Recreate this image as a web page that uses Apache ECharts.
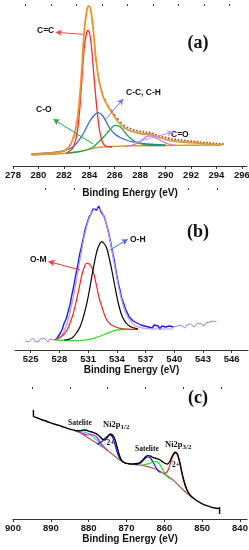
<!DOCTYPE html>
<html><head><meta charset="utf-8">
<script src="https://cdn.jsdelivr.net/npm/echarts@6.0.0/dist/echarts.min.js"></script>
<style>html,body{margin:0;padding:0;background:#fff}#c{width:249px;height:550px}</style>
</head><body><div id="c"></div>
<script>
// ---------- Panel (a): C1s ----------
const aTicks = [278,280,282,284,286,288,290,292,294,296];
const aMinor = [279,281,283,285,287,289,291,293,295];
const aMeas = [[279.5,11.8],[279.75,12.0],[280,12.3],[280.25,12.1],[280.5,12.6],[280.75,12.8],[281,13.1],[281.25,13.0],[281.5,13.7],[281.75,14.2],[282,15.3],[282.25,17.0],[282.5,21],[282.75,28.5],[283,43],[283.25,70],[283.5,112],[283.75,150],[284,160.5],[284.25,144],[284.5,106],[284.75,86],[285,74],[285.25,66],[285.5,60],[285.75,55.5],[286,51],[286.25,47],[286.5,43.5],[286.75,40.5],[287,38.5],[287.25,37.2],[287.5,36],[287.75,35.2],[288,34.5],[288.25,34.2],[288.5,33.6],[288.75,33.5],[289,32.6],[289.25,31.2],[289.5,30],[289.75,29.2],[290,28.4],[290.25,27.8],[290.5,27.1],[290.75,26.8],[291,26.2],[291.25,25.9],[291.5,25.5],[291.75,25.1],[292,24.8],[292.25,24.4],[292.5,24.3],[292.75,23.8],[293,23.6],[293.25,23.2],[293.5,23],[293.75,22.8],[294,22.5],[294.25,22.3],[294.5,22]];
const aTotal = [[279.5,11.5],[280.5,12.3],[281.5,13.5],[282.0,15],[282.4,19],[282.75,28],[283.0,42],[283.2,62],[283.4,95],[283.6,135],[283.8,155],[283.95,160],[284.1,157],[284.3,138],[284.5,110],[284.7,90],[284.9,78],[285.1,69],[285.4,61],[285.7,55],[286.0,49],[286.4,42],[286.9,37],[287.5,34],[288.0,32.5],[288.5,32],[288.8,32],[289.1,30.5],[289.5,28.5],[290.2,26],[291,24.5],[292,23.3],[293,22.3],[294.4,21]];
const aCC = [[282.2,13],[282.7,18],[283.0,30],[283.2,50],[283.4,83],[283.6,118],[283.8,134],[283.9,135.5],[284.05,131],[284.2,115],[284.4,85],[284.6,57],[284.8,36],[285.0,25],[285.2,20.5],[285.5,19.3],[285.8,19]];
const aCCH = [[279.6,12],[280.5,12.8],[281.5,14],[282.2,16],[282.7,19],[283.2,26],[283.6,34],[284.0,44],[284.4,51],[284.7,53.3],[285.0,51],[285.3,45],[285.6,38],[286.0,32],[286.5,28],[287.0,25.5],[287.5,24],[288.5,22],[290,21]];
const aCO = [[282.2,12.7],[283.0,14],[283.8,16],[284.3,19],[284.8,25],[285.2,30],[285.6,36],[286.0,40.7],[286.3,40],[286.6,37],[287.0,30.5],[287.4,26],[287.8,23],[288.3,21.5],[289,20.5],[290,20.3]];
const aCdO = [[286.9,19.3],[287.4,21],[287.8,23],[288.2,26.5],[288.6,30],[288.9,30],[289.3,27.7],[289.7,25],[290.1,22.5],[290.8,20.5]];
const aBase = [[279.5,11],[281,11.8],[282.2,12.7],[283,13.8],[283.6,15.5],[284.2,17.5],[284.8,18.7],[285.6,19.3],[287.5,20.2],[290,20.6],[294.4,21]];

// ---------- Panel (b): O1s ----------
const bTicks = [525,528,531,534,537,540,543,546];
const bMinor = [526.5,529.5,532.5,535.5,538.5,541.5,544.5];
const bMeas = [[527.7,11],[527.9,14],[528.1,17],[528.3,21],[528.5,27],[528.7,31],[528.9,38],[529.1,45],[529.3,55],[529.5,64],[529.7,75],[529.9,84],[530.1,95],[530.3,103],[530.5,112],[530.7,121],[530.9,127],[531.1,133],[531.3,136],[531.5,141],[531.7,143],[531.9,140],[532.1,144],[532.3,139],[532.5,138],[532.7,133],[532.9,126],[533.1,119],[533.3,110],[533.5,100],[533.7,91],[533.9,80],[534.1,69],[534.3,61],[534.5,52],[534.7,47],[534.9,41],[535.1,37],[535.3,33],[535.5,32],[535.7,29],[535.9,31],[536.1,27],[536.3,28],[536.5,25],[536.7,27],[536.9,24],[537.1,26],[537.3,23],[537.5,25],[537.7,22],[537.9,25],[538.1,23],[538.3,24],[538.5,21],[538.7,24],[538.9,22],[539.1,23],[539.3,21],[539.5,24],[539.7,22],[539.9,23]];
const bNoiseL = [[524.4,9],[524.6,11],[524.8,8],[525.0,10],[525.2,12],[525.4,9],[525.6,10],[525.8,8],[526.0,11],[526.2,9],[526.4,12],[526.6,10],[526.8,8],[527.0,11],[527.2,9],[527.4,10],[527.6,12],[527.8,11]];
const bNoiseR = [[539.9,23],[540.1,21],[540.3,24],[540.5,22],[540.7,25],[540.9,23],[541.1,22],[541.3,25],[541.5,23],[541.7,26],[541.9,24],[542.1,23],[542.3,26],[542.5,24],[542.7,27],[542.9,25],[543.1,24],[543.3,27],[543.5,25],[543.7,28],[543.9,26],[544.1,29],[544.3,27],[544.4,28]];
const bEnv = [[527.7,10.5],[528.3,15],[528.9,30],[529.5,55],[530.1,88],[530.7,118],[531.3,136],[531.9,142],[532.5,137],[533.1,118],[533.7,88],[534.3,58],[534.9,38],[535.5,28],[536.1,23.5],[537,21.5],[538,21],[539.9,21]];
const bOH = [[528.5,9.8],[528.9,10.5],[529.3,12],[529.7,16],[530.16,23.3],[530.5,33],[530.86,46.7],[531.1,58],[531.38,73.3],[531.65,87],[531.9,98.3],[532.15,105],[532.43,108.3],[532.7,106],[532.95,101.7],[533.2,92],[533.47,80],[533.75,66],[534.0,53.3],[534.25,43],[534.5,35],[534.75,30],[535.0,26.7],[535.4,23.5],[535.73,22.3],[536.2,21]];
const bOM = [[527.5,10.5],[527.9,12],[528.4,15],[528.8,20],[529.1,26.7],[529.4,35],[529.63,43.3],[529.9,55],[530.16,66.7],[530.4,77],[530.6,83],[530.8,86.5],[530.96,86.7],[531.15,85.5],[531.38,82.7],[531.65,74],[531.9,63.3],[532.15,52],[532.43,43.3],[532.7,35.5],[532.95,30],[533.3,26],[533.64,24],[534.0,22.5],[534.34,21.7],[535.0,21],[535.73,20.7],[536.2,20.7]];
const bBase = [[527.5,10],[528.5,9.5],[529.8,9.3],[530.8,10.2],[531.55,11.7],[532.3,14],[532.95,16.7],[533.5,18.7],[534,20],[535,20.7],[536.25,20.7]];

// ---------- Panel (c): Ni2p ----------
const cTicks = [900,890,880,870,860,850,840];
const cMinor = [895,885,875,865,855,845];
const cMeas = [[894.6,102.3],[893.5,101],[892.5,99.5],[891,97.5],[889.5,95.3],[888,93.8],[886.5,91.8],[885,89.8],[883.5,88.5],[882.3,88.2],[881.3,89],[880.6,88.7],[879.8,87.6],[879,86.8],[878.2,85.7],[877.5,84],[876.8,81.5],[876.2,79.5],[875.7,79],[875.1,81.5],[874.6,84],[874.2,85],[873.6,83.5],[873.0,79],[872.5,72],[871.9,64],[871.3,58.5],[870.5,56.2],[869.5,55.3],[868.2,55],[867.2,55.5],[866.4,56.5],[865.7,59],[865.0,62],[864.4,63.4],[863.6,62.8],[862.9,61.3],[862.0,60.3],[861.1,59],[860.4,57],[859.8,55.7],[859.2,55],[858.6,57],[858.0,62.3],[857.5,65.5],[857.1,66.7],[856.6,65.5],[856.2,61],[855.8,55],[855.4,47.3],[854.8,38],[854.0,29],[853.2,24],[852.3,20.7],[851,17.3],[849.7,14.7],[848.3,12.8],[847,11.3],[845.4,10.5]];
const cStartTick = [[894.6,109],[894.6,102.3]];
const cEndTick = [[845.4,12],[845.4,5]];
const cBg = [[883.5,88.3],[882.3,86.5],[880.6,82.3],[879,78.5],[877.1,74],[875.5,70],[874.4,66.7],[873,62.5],[871.8,59],[870.5,56.3],[869,55],[867.5,54.3],[866.5,54],[865,52.8],[863,50.7],[861.5,48.5],[860.3,45.7],[859,42.5],[857.7,39],[856.3,34],[855,29],[853.6,24.5],[852.2,20.7]];
const cSatCyan = [[883.5,88.3],[882.5,87.6],[881.5,87.0],[880.5,86.3],[879.5,84.4],[878.5,81.3],[877.5,77.5],[876.5,73.5],[875.5,70]];
const cSatMag = [[883.5,88.3],[882,86.0],[880.5,84.2],[879.5,84.3],[878.7,84.0],[877.8,81.5],[877,77],[876,72.3],[875,68.5]];
const cNi12 = [[877.8,75],[877.2,75.8],[876.5,77.5],[875.8,80.5],[875.1,82.5],[874.5,84],[874,83.5],[873.5,80],[873,74],[872.4,66],[871.8,60.5],[871.2,58.5]];
const cSatBlue = [[867.5,54.3],[866.5,55.5],[865.5,59],[864.8,61.5],[864.3,62],[863.7,61],[863,57],[862.3,52],[861.6,48],[861,46.5]];
const cSatGreen = [[866,54],[865,54.5],[864,55.5],[863.2,56.5],[862.5,57.5],[861.8,57],[861.1,54],[860.4,49],[859.7,44.5],[858.6,40.5]];
const cNi32 = [[860,45.5],[859.3,47],[858.8,51],[858.3,57],[857.7,63],[857.1,65.5],[856.6,64.5],[856.1,59],[855.6,50],[855,40],[854.3,31],[853.5,25]];

const SANS = 'Liberation Sans, Arial, sans-serif';
const SERIF = 'Liberation Serif, Times New Roman, serif';

function majorAxis(grid, min, max, ticks, inverse, gap){
  return {gridIndex:grid, type:'value', min:min, max:max, inverse:!!inverse,
    axisLine:{show:true, onZero:false, lineStyle:{color:'#333', width:1}},
    axisTick:{show:true, customValues:ticks, length:3, lineStyle:{color:'#333'}},
    axisLabel:{show:true, customValues:ticks, margin:4, fontSize:9.5, fontWeight:'bold', color:'#111', fontFamily:SANS, hideOverlap:false},
    splitLine:{show:false},
    name:'Binding Energy (eV)', nameLocation:'middle', nameGap:gap,
    nameTextStyle:{fontSize:10, fontWeight:'bold', color:'#111', fontFamily:SANS}};
}
function minorAxis(grid, min, max, ticks, inverse){
  return {gridIndex:grid, type:'value', min:min, max:max, inverse:!!inverse,
    axisLine:{show:false, onZero:false},
    axisTick:{show:true, customValues:ticks, length:2, lineStyle:{color:'#333'}},
    axisLabel:{show:false}, splitLine:{show:false}};
}
function yAx(grid, max){
  return {gridIndex:grid, type:'value', min:0, max:max, show:false, splitLine:{show:false}};
}
function ln(xi, data, color, width, smooth, z){
  return {type:'line', xAxisIndex:xi, yAxisIndex:Math.floor(xi/2), data:data, showSymbol:false, symbol:'none',
    smooth:smooth===undefined?0.35:smooth, lineStyle:{color:color, width:width||1}, z:z||2, silent:true, animation:false};
}
function arrow(xi, from, to, color){
  return {type:'line', xAxisIndex:xi, yAxisIndex:Math.floor(xi/2), data:[], silent:true, animation:false,
    markLine:{silent:true, animation:false, symbol:['none','arrow'], symbolSize:[5,6], label:{show:false},
      lineStyle:{color:color, width:1, type:'solid'},
      data:[[{coord:from},{coord:to}]]}, z:6};
}
function txt(x, y, text, opts){
  return {type:'text', x:x, y:y, style:Object.assign({text:text, font:'bold 8.5px '+SANS, fill:'#111', textAlign:'left', textVerticalAlign:'middle'}, opts||{})};
}
const G = {outerBoundsMode:'none', containLabel:false};

const chart = echarts.init(document.getElementById('c'), null, {renderer:'canvas'});
chart.setOption({
  animation:false,
  backgroundColor:'#fff',
  grid:[
    Object.assign({left:13, width:234, top:6, height:160}, G),
    Object.assign({left:15, width:233, top:190, height:160}, G),
    Object.assign({left:13, width:234, top:389, height:130}, G)
  ],
  xAxis:[
    majorAxis(0, 278, 296.4, aTicks, false, 22), minorAxis(0, 278, 296.4, aMinor),
    majorAxis(1, 523.36, 547.7, bTicks, false, 15), minorAxis(1, 523.36, 547.7, bMinor),
    majorAxis(2, 838.15, 900, cTicks, true, 15), minorAxis(2, 838.15, 900, cMinor, true)
  ],
  yAxis:[yAx(0,160), yAx(1,160), yAx(2,130)],
  series:[
    // (a)
    {type:'scatter', xAxisIndex:0, yAxisIndex:0, data:aMeas, symbolSize:2, itemStyle:{color:'#444'}, silent:true, z:1},
    ln(0, aBase, '#c9a02c', 1.5),
    ln(0, aCCH, '#2f6fe0', 1.3),
    ln(0, aCO, '#22a84a', 1.3),
    ln(0, aCdO, '#c07ce8', 1.3),
    ln(0, aCC, '#ff2a2a', 1.3),
    ln(0, aTotal, '#f0922a', 1.8, 0.35, 3),
    arrow(0, [283.53,131.7], [281.36,133.7], '#ff4a4a'),
    arrow(0, [285.23,46], [286.67,67], '#6a78ff'),
    arrow(0, [284.31,22], [281.17,46.7], '#22a84a'),
    arrow(0, [287.43,23], [290.58,34], '#c890f0'),
    // (b)
    ln(2, bNoiseL, '#a878e0', 1, false),
    ln(2, bNoiseR, '#a878e0', 1, false),
    ln(2, bMeas, '#1a1aff', 1.4, false),
    ln(2, bEnv, '#c090ff', 1.2, 0.35, 3),
    ln(2, bBase, '#22ee22', 1.3, 0.35, 4),
    ln(2, bOM, '#ff2020', 1.2, 0.35, 4),
    ln(2, bOH, '#000000', 1.2, 0.35, 4),
    arrow(2, [533.29,100], [535.14,110.7], '#4a6aff'),
    arrow(2, [530.15,80], [526.86,88.5], '#ff3030'),
    // (c)
    ln(4, cBg, '#a05a4a', 1.2),
    ln(4, cSatCyan, '#22d6e8', 1.2),
    ln(4, cSatMag, '#e020e0', 1.2),
    ln(4, cNi12, '#1a1aee', 1.2),
    ln(4, cSatBlue, '#1a1aee', 1.2),
    ln(4, cSatGreen, '#18e018', 1.2),
    ln(4, cNi32, '#ff2a2a', 1.2),
    ln(4, cMeas, '#000000', 1.4, 0.35, 5),
    ln(4, cStartTick, '#000000', 1.4, false, 5),
    ln(4, cEndTick, '#000000', 1.4, false, 5)
  ],
  graphic:[
    txt(198, 43, '(a)', {font:'bold 18px '+SERIF, textAlign:'center'}),
    txt(198, 232, '(b)', {font:'bold 18px '+SERIF, textAlign:'center'}),
    txt(198, 398, '(c)', {font:'bold 18px '+SERIF, textAlign:'center'}),
    txt(37, 31, 'C=C'),
    txt(126, 93, 'C-C, C-H'),
    txt(36, 110, 'C-O'),
    txt(171, 135, 'C=O'),
    txt(130, 240, 'O-H'),
    txt(30, 260, 'O-M'),
    txt(68, 423.5, 'Satelite', {font:'bold 7.5px '+SERIF}),
    {type:'text', x:103, y:425, style:{rich:{a:{font:'bold 8.5px '+SERIF, fill:'#111'}, s:{font:'bold 7px '+SERIF, fill:'#111', padding:[4,0,0,0]}}, text:'{a|Ni2p}{s|1/2}', textVerticalAlign:'middle'}},
    txt(106.5, 443.5, '2+', {font:'bold 7.5px '+SERIF}),
    txt(135, 449.5, 'Satelite', {font:'bold 7.5px '+SERIF}),
    {type:'text', x:165, y:445, style:{rich:{a:{font:'bold 8.5px '+SERIF, fill:'#111'}, s:{font:'bold 7px '+SERIF, fill:'#111', padding:[4,0,0,0]}}, text:'{a|Ni2p}{s|3/2}', textVerticalAlign:'middle'}},
    txt(172, 465, '2+', {font:'bold 7.5px '+SERIF})
  ]
});
</script></body></html>
